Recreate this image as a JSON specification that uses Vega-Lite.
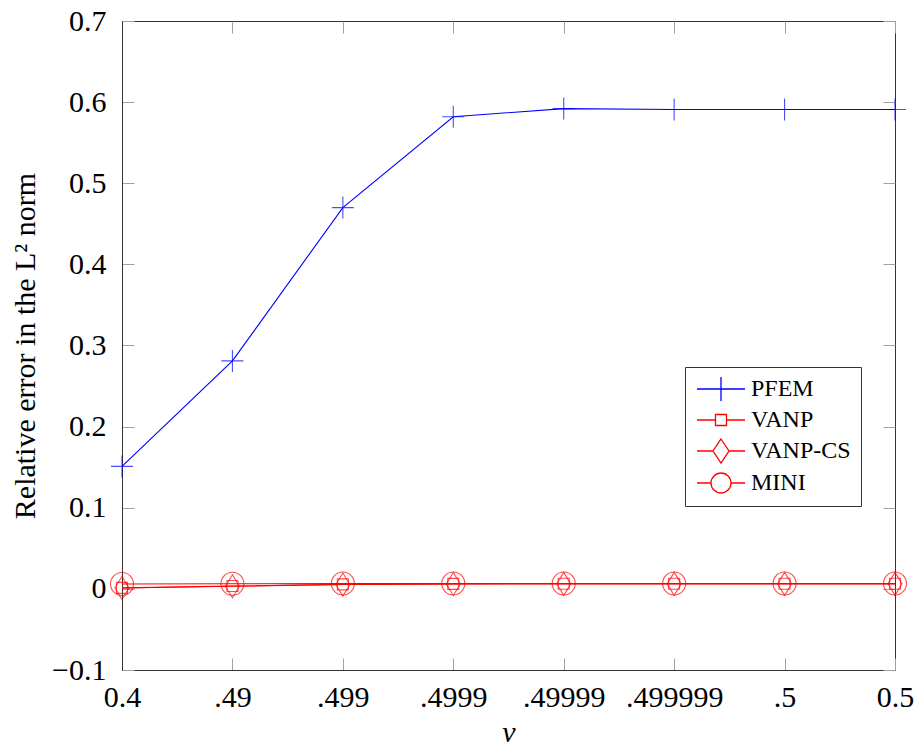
{
  "$schema": "https://vega.github.io/schema/vega-lite/v6.json",
  "width": 773,
  "height": 649,
  "autosize": {"type": "none"},
  "padding": {"left": 122, "top": 21, "right": 20, "bottom": 78},
  "background": "white",
  "config": {
    "view": {"stroke": "#333333", "strokeWidth": 1},
    "font": "Liberation Serif",
    "axis": {
      "labelFont": "Liberation Serif",
      "titleFont": "Liberation Serif",
      "labelFontSize": 30,
      "titleFontSize": 30,
      "titleFontWeight": "normal",
      "labelColor": "#000000",
      "titleColor": "#000000",
      "tickColor": "#a0a0a0",
      "tickSize": -12,
      "domainColor": "#333333",
      "grid": false
    }
  },
  "data": {
    "values": [
      {"series": "PFEM", "idx": 0, "value": 0.151},
      {"series": "PFEM", "idx": 1, "value": 0.281},
      {"series": "PFEM", "idx": 2, "value": 0.470},
      {"series": "PFEM", "idx": 3, "value": 0.582},
      {"series": "PFEM", "idx": 4, "value": 0.592},
      {"series": "PFEM", "idx": 5, "value": 0.591},
      {"series": "PFEM", "idx": 6, "value": 0.591},
      {"series": "PFEM", "idx": 7, "value": 0.591},
      {"series": "VANP", "idx": 0, "value": 0.0012},
      {"series": "VANP", "idx": 1, "value": 0.0035},
      {"series": "VANP", "idx": 2, "value": 0.0055},
      {"series": "VANP", "idx": 3, "value": 0.0062},
      {"series": "VANP", "idx": 4, "value": 0.0064},
      {"series": "VANP", "idx": 5, "value": 0.0064},
      {"series": "VANP", "idx": 6, "value": 0.0064},
      {"series": "VANP", "idx": 7, "value": 0.0064},
      {"series": "VANP-CS", "idx": 0, "value": 0.0010},
      {"series": "VANP-CS", "idx": 1, "value": 0.0033},
      {"series": "VANP-CS", "idx": 2, "value": 0.0053},
      {"series": "VANP-CS", "idx": 3, "value": 0.0060},
      {"series": "VANP-CS", "idx": 4, "value": 0.0062},
      {"series": "VANP-CS", "idx": 5, "value": 0.0062},
      {"series": "VANP-CS", "idx": 6, "value": 0.0062},
      {"series": "VANP-CS", "idx": 7, "value": 0.0062},
      {"series": "MINI", "idx": 0, "value": 0.0060},
      {"series": "MINI", "idx": 1, "value": 0.0063},
      {"series": "MINI", "idx": 2, "value": 0.0066},
      {"series": "MINI", "idx": 3, "value": 0.0067},
      {"series": "MINI", "idx": 4, "value": 0.0067},
      {"series": "MINI", "idx": 5, "value": 0.0067},
      {"series": "MINI", "idx": 6, "value": 0.0067},
      {"series": "MINI", "idx": 7, "value": 0.0067}
    ]
  },
  "layer": [
    {
      "mark": {"type": "line", "strokeWidth": 1.1},
      "encoding": {
        "x": {
          "field": "idx", "type": "quantitative",
          "scale": {"domain": [0, 7], "nice": false, "zero": false},
          "axis": {
            "orient": "bottom",
            "values": [0, 1, 2, 3, 4, 5, 6, 7],
            "labelExpr": "['0.4', '.49', '.499', '.4999', '.49999', '.499999', '.5', '0.5'][datum.value]",
            "labelPadding": 24,
            "title": "ν",
            "titleFontStyle": "italic",
            "titlePadding": 5,
            "labelFlush": false,
            "labelOverlap": false
          }
        },
        "y": {
          "field": "value", "type": "quantitative",
          "scale": {"domain": [-0.1, 0.7], "nice": false, "zero": false},
          "axis": {
            "orient": "left",
            "values": [-0.1, 0, 0.1, 0.2, 0.3, 0.4, 0.5, 0.6, 0.7],
            "labelExpr": "datum.value < 0 ? '−0.1' : (datum.value == 0 ? '0' : format(datum.value, '.1f'))",
            "labelPadding": 28,
            "title": "Relative error in the L² norm",
            "titleX": -97,
            "titleY": 324.5,
            "titleBaseline": "middle",
            "labelFlush": false,
            "labelOverlap": false
          }
        },
        "color": {
          "field": "series", "type": "nominal",
          "scale": {"domain": ["PFEM", "VANP", "VANP-CS", "MINI"], "range": ["#0000ff", "#ff0000", "#ff0000", "#ff0000"]},
          "legend": {
            "title": null,
            "orient": "none",
            "legendX": 563,
            "legendY": 346,
            "padding": 10,
            "strokeColor": "#333333",
            "fillColor": "#ffffff",
            "labelFont": "Liberation Serif",
            "labelFontSize": 24,
            "labelColor": "#000000",
            "symbolSize": 4,
            "symbolOffset": 14,
            "labelOffset": 18,
            "rowPadding": 4,
            "symbolStrokeWidth": 1.3,
            "symbolFillColor": "transparent",
            "encode": {
              "symbols": {
                "update": {
                  "shape": {"signal": "datum.value === 'PFEM' ? 'M-24,0H24M0,-12V12' : datum.value === 'VANP' ? 'M-24,0H-5.5M5.5,0H24M-5.5,-5.5H5.5V5.5H-5.5Z' : datum.value === 'VANP-CS' ? 'M-24,0H-8M8,0H24M0,-12L8,0L0,12L-8,0Z' : 'M-24,0H-10M10,0H24M10,0A10,10,0,1,1,-10,0A10,10,0,1,1,10,0'"},
                  "size": {"value": 4},
                  "fill": {"value": "transparent"},
                  "strokeWidth": {"value": 1.3}
                }
              }
            }
          }
        },
        "detail": {"field": "series"}
      }
    },
    {
      "transform": [{"filter": "datum.series === 'PFEM'"}],
      "mark": {"type": "point", "filled": false, "strokeWidth": 1.1, "color": "#0000ff", "shape": "M-11,0H11M0,-11V11", "size": 4},
      "encoding": {
        "x": {"field": "idx", "type": "quantitative", "axis": null},
        "y": {"field": "value", "type": "quantitative", "axis": null}
      }
    },
    {
      "transform": [{"filter": "datum.series === 'VANP'"}],
      "mark": {"type": "point", "filled": false, "strokeWidth": 1.1, "color": "#ff0000", "shape": "M-5.5,-5.5H5.5V5.5H-5.5Z", "size": 4},
      "encoding": {
        "x": {"field": "idx", "type": "quantitative", "axis": null},
        "y": {"field": "value", "type": "quantitative", "axis": null}
      }
    },
    {
      "transform": [{"filter": "datum.series === 'VANP-CS'"}],
      "mark": {"type": "point", "filled": false, "strokeWidth": 1.1, "color": "#ff0000", "shape": "M0,-11.5L7,0L0,11.5L-7,0Z", "size": 4},
      "encoding": {
        "x": {"field": "idx", "type": "quantitative", "axis": null},
        "y": {"field": "value", "type": "quantitative", "axis": null}
      }
    },
    {
      "transform": [{"filter": "datum.series === 'MINI'"}],
      "mark": {"type": "point", "filled": false, "strokeWidth": 1.1, "color": "#ff0000", "shape": "M11.5,0A11.5,11.5,0,1,1,-11.5,0A11.5,11.5,0,1,1,11.5,0", "size": 4},
      "encoding": {
        "x": {"field": "idx", "type": "quantitative", "axis": null},
        "y": {"field": "value", "type": "quantitative", "axis": null}
      }
    },
    {
      "mark": {"type": "point", "opacity": 0},
      "encoding": {
        "x": {
          "field": "idx", "type": "quantitative",
          "axis": {"orient": "top", "values": [0, 1, 2, 3, 4, 5, 6, 7], "labels": false, "title": null, "domain": false}
        },
        "y": {
          "field": "value", "type": "quantitative",
          "axis": {"orient": "right", "values": [-0.1, 0, 0.1, 0.2, 0.3, 0.4, 0.5, 0.6, 0.7], "labels": false, "title": null, "domain": false}
        }
      }
    }
  ],
  "resolve": {"axis": {"x": "independent", "y": "independent"}}
}
